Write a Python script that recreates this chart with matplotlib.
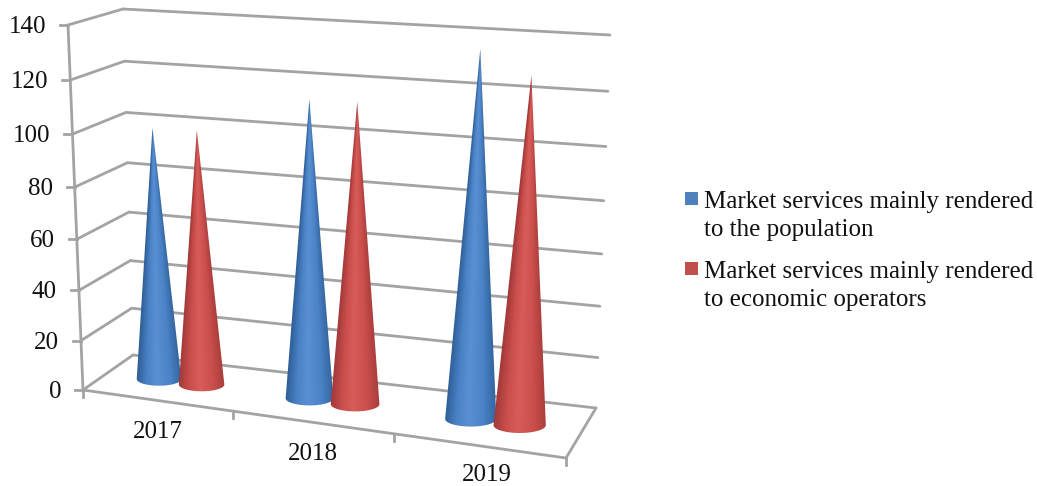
import numpy as np
import matplotlib
matplotlib.use('Agg')
import matplotlib.pyplot as plt
from matplotlib.patches import Rectangle, Polygon

plt.rcParams['font.family'] = ['Liberation Serif', 'DejaVu Serif']

# Data
years = ['2017', '2018', '2019']
population = [100, 115.5, 138]
operators = [100.5, 116, 130]
y_ticks = [0, 20, 40, 60, 80, 100, 120, 140]
legend_labels = ['Market services mainly rendered\nto the population',
                 'Market services mainly rendered\nto economic operators']

BLUE = ['#2f5f98', '#4a82c6', '#5a90d2', '#4a82c6', '#33649e']
RED = ['#a33a39', '#c94e4c', '#d85c5a', '#c94e4c', '#a83d3b']
GRID = '#a3a3a3'
TEXT = '#111111'

# Corners of the 3D box on the page: (x, y) at value 0 and at value 140
front_left = ((83, 390), (68, 25))
back_left = ((133, 355), (123, 9))
back_right = ((596, 408), (610, 35))
front_right = ((566, 458), (585, 67))


def warp(t, k):
    # perspective squeeze, the far end of the axis gets less room
    return t / (1 + k * (1 - t))


def project(u, d, v):
    # u: category position 0..3, d: depth 0..1, v: value
    s = warp(u / 3, 0.11)
    t = warp(v / 140, 0.066)
    corners = []
    for c in (front_left, back_left, back_right, front_right):
        corners.append(np.array(c[0]) * (1 - t) + np.array(c[1]) * t)
    left = corners[0] * (1 - d) + corners[1] * d
    right = corners[3] * (1 - d) + corners[2] * d
    return left * (1 - s) + right * s


def line3d(ax, a, b, lw=2.0):
    p, q = project(*a), project(*b)
    ax.plot([p[0], q[0]], [p[1], q[1]], color=GRID, lw=lw, solid_capstyle='round')


def cone(ax, u, value, colors, radius=0.152, d=0.5):
    base = project(u, d, 0)
    apex = project(u, d, value)
    a = np.linalg.norm(project(u + radius, d, 0) - project(u - radius, d, 0)) / 2
    b = a * 0.3

    # outline of the cone: apex, then round the bottom of the base ellipse
    ang = np.linspace(np.pi, 0, 60)
    outline = np.column_stack([base[0] + a * np.cos(ang), base[1] + b * np.sin(ang)])
    outline = np.vstack([apex, outline])

    x0, x1 = outline[:, 0].min() - 1, outline[:, 0].max() + 1
    y0, y1 = apex[1] - 1, base[1] + b + 1
    xs = np.linspace(x0, x1, int((x1 - x0) * 3))
    ys = np.linspace(y0, y1, int((y1 - y0) * 2))
    xx, yy = np.meshgrid(xs, ys)

    # shading runs across the cone and closes in towards the apex
    f = np.clip((yy - apex[1]) / (base[1] - apex[1]), 0.005, 1)
    s = np.clip((xx - (apex[0] + f * (base[0] - apex[0]))) / (a * f), -1, 1)
    stops = [-1, -0.55, -0.1, 0.5, 1]
    rgb = np.array([matplotlib.colors.to_rgb(c) for c in colors])
    shade = np.dstack([np.interp(s, stops, rgb[:, j]) for j in range(3)])

    im = ax.imshow(shade, extent=(x0, x1, y1, y0), aspect='auto', zorder=3,
                   interpolation='bilinear')
    im.set_clip_path(Polygon(outline, closed=True, transform=ax.transData))


fig = plt.figure(figsize=(10.37, 4.86), dpi=100)
ax = fig.add_axes([0, 0, 1, 1])

# walls
for v in y_ticks:
    line3d(ax, (0, 0, v), (0, 1, v))
    line3d(ax, (0, 1, v), (3, 1, v))
    p = project(0, 0, v)
    ax.plot([p[0] - 8, p[0]], [p[1], p[1]], color=GRID, lw=2.0)
    ax.text(p[0] - 22, p[1] + 2, str(v), ha='right', va='center', fontsize=18, color=TEXT)

# floor and front axes
line3d(ax, (0, 0, 0), (0, 0, 140))
line3d(ax, (0, 0, 0), (3, 0, 0))
line3d(ax, (3, 0, 0), (3, 1, 0))
for i in range(len(years) + 1):
    p = project(i, 0, 0)
    ax.plot([p[0], p[0]], [p[1], p[1] + 7], color=GRID, lw=2.0)

label_dx = [1, 1, 9]
label_dy = [32, 32, 29]
for i, year in enumerate(years):
    p = project(i + 0.5, 0, 0)
    ax.text(p[0] + label_dx[i], p[1] + label_dy[i], year, ha='center', va='center', fontsize=18, color=TEXT)

# cones, pairs around the middle of each category
for i in range(len(years)):
    cone(ax, i + 0.5 - 0.145, population[i], BLUE)
    cone(ax, i + 0.5 + 0.145, operators[i], RED)

# legend
legend_y = [199, 269]
for y, label, c in zip(legend_y, legend_labels, ['#4f81bd', '#c0504d']):
    ax.add_patch(Rectangle((685, y - 7), 13, 13, color=c, lw=0))
    ax.text(704, y + 17, label, ha='left', va='center', fontsize=18, color=TEXT, linespacing=1.3)

ax.set_xlim(0, 1037)
ax.set_ylim(486, 0)
ax.axis('off')

fig.savefig('out.png', dpi=100)
